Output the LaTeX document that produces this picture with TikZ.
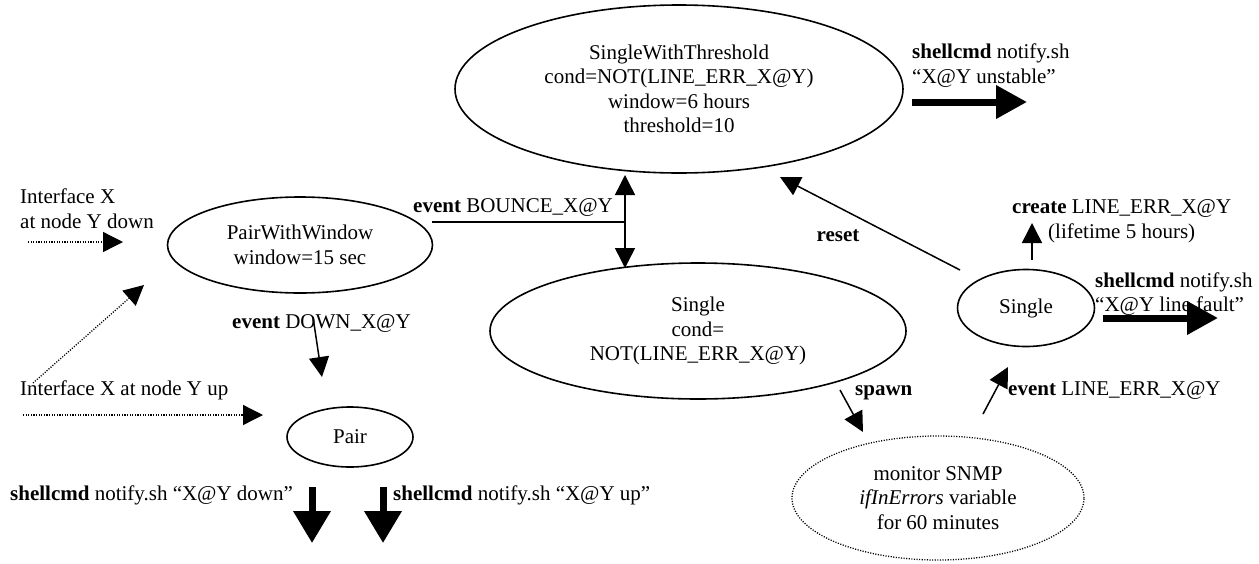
\documentclass[tikz,border=0pt]{standalone}
\usepackage{fontspec}
\setmainfont{Liberation Serif}
\usetikzlibrary{shapes.geometric,arrows.meta}
\begin{document}
\begin{tikzpicture}[x=1pt,y=-1pt,
  font=\fontsize{21}{24.5}\selectfont,
  state/.style={draw, ellipse, line width=1.6pt, inner sep=0pt, align=center},
  dotstate/.style={state, line width=1.3pt, dash pattern=on 1.1pt off 1.5pt},
  lbl/.style={inner sep=0pt, anchor=base west},
  arr/.style={line width=1.5pt, -{Triangle[length=20pt,width=20pt]}},
  darr/.style={arr, line width=1.3pt, dash pattern=on 1.1pt off 1.5pt},
  bigarr/.style={line width=7pt, -{Triangle[length=31pt,width=32pt]}},
  bigarrd/.style={line width=7pt, -{Triangle[length=32pt,width=36pt]}}]
\useasboundingbox (0,0) rectangle (1259,563);

% states
\node[state, minimum width=448pt, minimum height=168pt] (swt) at (679,89)
  {SingleWithThreshold\\cond=NOT(LINE\_ERR\_X@Y)\\window=6 hours\\threshold=10};
\node[state, minimum width=265pt, minimum height=96pt] (pww) at (300,245)
  {PairWithWindow\\window=15 sec};
\node[state, minimum width=126pt, minimum height=60pt] (pair) at (350,437) {Pair};
\node[state, minimum width=416pt, minimum height=136pt] (sgl) at (698,331)
  {Single\\cond=\\NOT(LINE\_ERR\_X@Y)};
\node[state, minimum width=137pt, minimum height=77pt] (sgl2) at (1026,308) {Single};
\node[dotstate, minimum width=292pt, minimum height=124pt] (mon) at (938,498)
  {monitor SNMP\\\textit{ifInErrors} variable\\for 60 minutes};

% labels
\node[lbl] (tdown1) at (20,203) {Interface X};
\node[lbl] (tdown2) at (20,228) {at node Y down};
\node[lbl] (tup) at (20,395) {Interface X at node Y up};
\node[lbl] (tev1) at (232,328) {\textbf{event} DOWN\_X@Y};
\node[lbl] (tsh1) at (10,500) {\textbf{shellcmd} notify.sh “X@Y down”};
\node[lbl] (tsh2) at (393,500) {\textbf{shellcmd} notify.sh “X@Y up”};
\node[lbl] (tbounce) at (413,212) {\textbf{event} BOUNCE\_X@Y};
\node[lbl] (tsh3a) at (912,58) {\textbf{shellcmd} notify.sh};
\node[lbl] (tsh3b) at (912,83) {“X@Y unstable”};
\node[inner sep=0pt, anchor=base] (treset) at (838,241) {\textbf{reset}};
\node[lbl] (tcr1) at (1012,213) {\textbf{create} LINE\_ERR\_X@Y};
\node[lbl] (tcr2) at (1048,238) {(lifetime 5 hours)};
\node[lbl] (tsh4a) at (1095,287) {\textbf{shellcmd} notify.sh};
\node[lbl] (tsh4b) at (1095,311) {“X@Y line fault”};
\node[lbl] (tspawn) at (855,395) {\textbf{spawn}};
\node[lbl] (tev2) at (1008,395) {\textbf{event} LINE\_ERR\_X@Y};

% connector end points
\coordinate (d1s) at (28,242);   \coordinate (d1e) at (123,242);
\coordinate (d2s) at (33,383);   \coordinate (d2e) at (144,285);
\coordinate (d3s) at (23,415);   \coordinate (d3e) at (263,415);
\coordinate (e1s) at (313,317);  \coordinate (e1e) at (322,377);
\coordinate (bs) at (432,222);   \coordinate (j) at (625,222);
\coordinate (jt) at (625,175);   \coordinate (jb) at (625,268);
\coordinate (b1s) at (312,487);  \coordinate (b1e) at (312,543);
\coordinate (b2s) at (383,487);  \coordinate (b2e) at (383,543);
\coordinate (b3s) at (912,102);  \coordinate (b3e) at (1027,102);
\coordinate (b4s) at (1103,318); \coordinate (b4e) at (1218,318);
\coordinate (rs) at (960,270);   \coordinate (re) at (780,177);
\coordinate (cs) at (1032,260);  \coordinate (ce) at (1032,223);
\coordinate (ss) at (840,390);   \coordinate (se) at (863,432);
\coordinate (ls) at (983,414);   \coordinate (le) at (1008,367);

% connectors
\draw[darr] (d1s) -- (d1e);
\draw[darr] (d2s) -- (d2e);
\draw[darr] (d3s) -- (d3e);
\draw[arr] (e1s) -- (e1e);
\draw[line width=1.5pt] (bs) -- (j);
\draw[arr] (j) -- (jt);
\draw[arr] (j) -- (jb);
\draw[bigarrd] (b1s) -- (b1e);
\draw[bigarrd] (b2s) -- (b2e);
\draw[bigarr] (b3s) -- (b3e);
\draw[bigarr] (b4s) -- (b4e);
\draw[arr] (rs) -- (re);
\draw[arr] (cs) -- (ce);
\draw[arr] (ss) -- (se);
\draw[arr] (ls) -- (le);
\end{tikzpicture}
\end{document}
